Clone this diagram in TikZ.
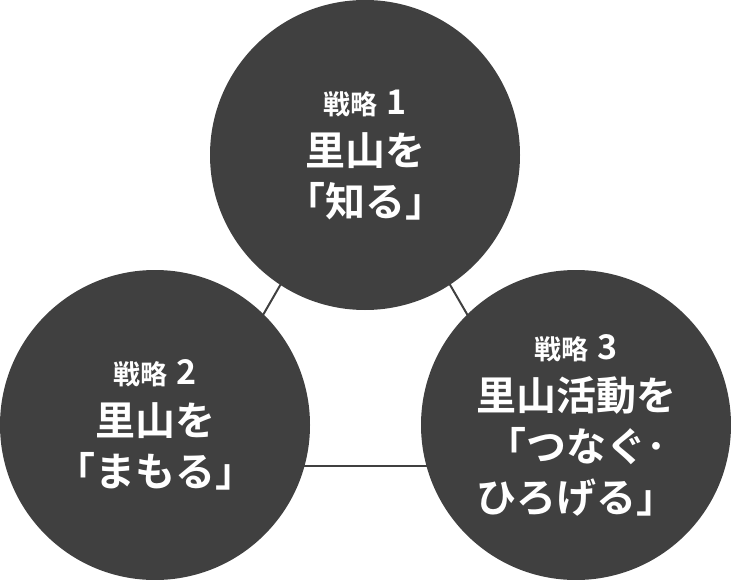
\documentclass[tikz,border=0pt]{standalone}
\usepackage{fontspec}
\newfontfamily\jpfont{Noto Sans CJK JP}[BoldFont={Noto Sans CJK JP Bold}]
\definecolor{darkgrey}{HTML}{404040}
\tikzset{
    strategy/.style={circle, fill=darkgrey, text=white, minimum size=310pt, inner sep=0pt,
        align=center, font=\jpfont\bfseries\fontsize{40}{51}\selectfont},
    link/.style={draw=darkgrey, line width=2pt}
}
\newcommand{\smallline}[1]{{\fontsize{27}{51}\selectfont 戦略\hspace{9pt}{\fontsize{34}{51}\selectfont #1}}\\[0pt]}
\begin{document}
\begin{tikzpicture}[x=1pt, y=-1pt]
                        \useasboundingbox (0, 0) rectangle (731, 580);
                        \coordinate (TA) at (365, 138);
                        \coordinate (TL) at (176, 466);
                        \coordinate (TR) at (555, 466);

                        \path [link]
                            (TA) edge (TL)
                            (TL) edge (TR)
                            (TR) edge (TA);

                        \node at (365, 155) (Know) [strategy] {\smallline{1}里山を\\「知る」};
                        \node at (155, 425) (Protect) [strategy] {\smallline{2}里山を\\「まもる」};
                        \node at (576, 425) (Connect) [strategy] {\smallline{3}里山活動を\\「つなぐ･\\ひろげる」};
                    \end{tikzpicture}
\end{document}
